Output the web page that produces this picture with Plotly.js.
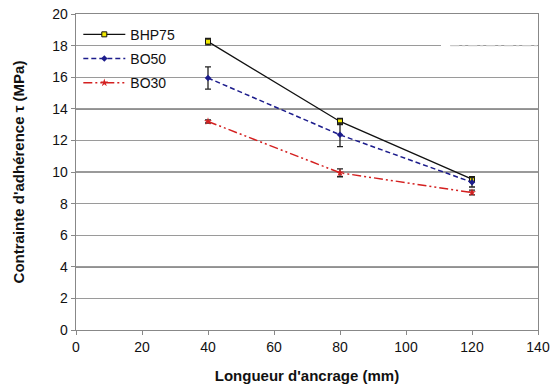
<!DOCTYPE html>
<html><head><meta charset="utf-8">
<script src="https://cdn.plot.ly/plotly-3.0.1.min.js"></script>
<style>body{margin:0;background:#fff}#c{width:551px;height:391px}</style>
</head><body><div id="c"></div>
<script>
const lengths = [40, 80, 120];
const bhp75 = [18.25, 13.2, 9.55];
const bhp75Err = [0.2, 0.2, 0.15];
const bo50 = [15.95, 12.35, 9.35];
const bo50Err = [0.7, 0.75, 0.3];
const bo30 = [13.2, 9.95, 8.7];
const bo30Err = [0.1, 0.25, 0.15];
const darkGrid = [14, 4];

const errStyle = {type:'data', visible:true, color:'#222', thickness:1.3, width:3};
const traces = [
  {x:lengths, y:bhp75, name:'BHP75', legendgroup:'a', mode:'lines+markers',
   line:{color:'#111', width:1.3},
   marker:{symbol:'square', size:5, color:'#f0e800', line:{color:'#111', width:1}},
   error_y:Object.assign({array:bhp75Err}, errStyle)},
  {x:lengths, y:bo50, name:'BO50', legendgroup:'b', mode:'lines+markers',
   line:{color:'#1c1c8c', width:1.5, dash:'5px,3px'},
   marker:{symbol:'diamond', size:5, color:'#1c1c8c'},
   error_y:Object.assign({array:bo50Err}, errStyle)},
  {x:lengths, y:bo30, name:'BO30', legendgroup:'c', mode:'lines+markers',
   line:{color:'#d42020', width:1.5, dash:'9px,3px,2px,3px,2px,3px'},
   marker:{symbol:'star', size:6, color:'#d42020'},
   error_y:Object.assign({array:bo30Err}, errStyle)}
];
const shapes = darkGrid.map(v => ({type:'line', xref:'paper', x0:0, x1:1, yref:'y', y0:v, y1:v,
  line:{color:'#222', width:1.2}, layer:'below'}));
shapes.push({type:'line', xref:'paper', x0:0.81, x1:1, yref:'y', y0:18, y1:18,
  line:{color:'#c8c8c8', width:1.3, dash:'dashdot'}, layer:'above'});
shapes.push({type:'line', xref:'paper', x0:0.79, x1:0.81, yref:'y', y0:18, y1:18,
  line:{color:'#ffffff', width:2}, layer:'above'});

const layout = {
  width:551, height:391,
  margin:{l:76, r:13, t:14, b:61},
  paper_bgcolor:'#fff', plot_bgcolor:'#fff',
  font:{family:'Arial, Liberation Sans, sans-serif', size:14, color:'#111'},
  showlegend:true,
  legend:{x:0.005, y:0.985, xanchor:'left', yanchor:'top', bgcolor:'rgba(0,0,0,0)',
    font:{size:14, color:'#111'}, itemwidth:42, traceorder:'grouped', tracegroupgap:3},
  xaxis:{range:[0,140], dtick:20, ticks:'outside', ticklen:4, tickcolor:'#888',
    showgrid:false, zeroline:false, showline:true, linecolor:'#888', linewidth:1.3, mirror:true,
    title:{text:"<b>Longueur d'ancrage (mm)</b>", font:{size:15}, standoff:16}},
  yaxis:{range:[0,20], dtick:2, ticks:'outside', ticklen:4, tickcolor:'#888',
    showgrid:true, gridcolor:'#9a9a9a', gridwidth:1.2, zeroline:false,
    showline:true, linecolor:'#888', linewidth:1.3, mirror:true,
    title:{text:"<b>Contrainte d'adhérence τ (MPa)</b>", font:{size:15}, standoff:24}},
  shapes:shapes
};
Plotly.newPlot('c', traces, layout, {displayModeBar:false, staticPlot:true});
</script></body></html>
